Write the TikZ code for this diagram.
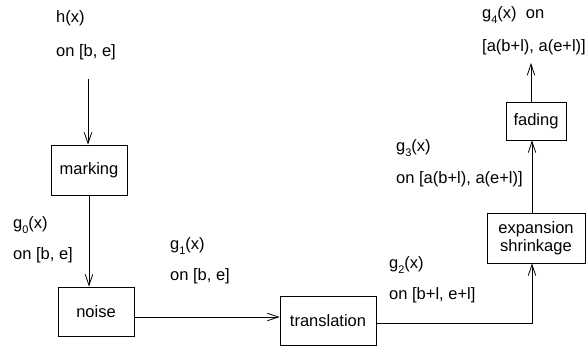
\documentclass[tikz,border=0pt]{standalone}
\usepackage{fontspec}
\setmainfont{Liberation Sans}
\usetikzlibrary{arrows.meta}
\newcommand{\gsub}[1]{g\raisebox{-5pt}{\fontsize{11}{10}\selectfont #1}(x)}
\begin{document}
\begin{tikzpicture}[x=1pt,y=-1pt,
  every node/.style={font=\fontsize{16.5}{18}\selectfont},
  procbox/.style={draw=black, line width=0.8pt, inner sep=0pt, align=center},
  lbl/.style={anchor=base west, inner sep=0pt},
  arr/.style={line width=0.8pt, -{Straight Barb[length=11pt,width=7.5pt,line width=0.8pt]}},
  ln/.style={line width=0.8pt}]
\useasboundingbox (0,0) rectangle (587,346);
% boxes
\node[procbox, minimum width=76pt, minimum height=50pt] (marking) at (89,170) {marking};
\node[procbox, minimum width=76pt, minimum height=49pt] (noise) at (96,311.5) {noise};
\node[procbox, minimum width=96pt, minimum height=49pt] (translation) at (328,320.5) {translation};
\node[procbox, minimum width=98pt, minimum height=50pt] (expansion) at (536,238) {expansion\\shrinkage};
\node[procbox, minimum width=60pt, minimum height=38pt] (fading) at (536,121) {fading};
% labels
\node[lbl] (h) at (56,22) {h(x)};
\node[lbl] (hr) at (56,56) {on [b, e]};
\node[lbl] (g0) at (13,228) {\gsub{0}};
\node[lbl] (g0r) at (13,259) {on [b, e]};
\node[lbl] (g1) at (170,249) {\gsub{1}};
\node[lbl] (g1r) at (170,280) {on [b, e]};
\node[lbl] (g2) at (389,268) {\gsub{2}};
\node[lbl] (g2r) at (389,299.5) {on [b+l, e+l]};
\node[lbl] (g3) at (396,151) {\gsub{3}};
\node[lbl] (g3r) at (396,183) {on [a(b+l), a(e+l)]};
\node[lbl] (g4) at (482,18) {\gsub{4}\ \ on};
\node[lbl] (g4r) at (482,51.7) {[a(b+l), a(e+l)]};
% connectors
\coordinate (hs) at (88,79);
\coordinate (vx) at (532,0);
\coordinate (top) at (531,63);
\draw[arr] (hs) -- (hs |- marking.north);
\draw[arr] (marking.south) -- (marking.south |- noise.north);
\draw[arr] (noise.east |- 0,317) -- (translation.west |- 0,317);
\draw[arr] (translation.east |- 0,323) -| (vx |- expansion.south);
\draw[arr] (vx |- expansion.north) -- (vx |- fading.south);
\draw[arr] (top |- fading.north) -- (top);
\end{tikzpicture}
\end{document}
